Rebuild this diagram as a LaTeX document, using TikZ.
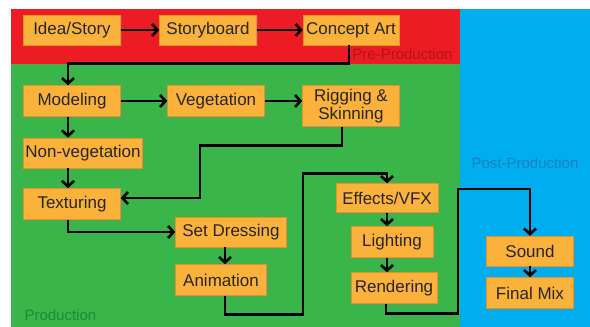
\documentclass[tikz,border=0pt]{standalone}
\usepackage{fontspec}
\setmainfont{Liberation Sans}
\usetikzlibrary{arrows.meta, shadows}

\definecolor{preRed}{RGB}{237,28,36}
\definecolor{prodGreen}{RGB}{57,181,74}
\definecolor{postBlue}{RGB}{0,174,239}
\definecolor{boxOrange}{RGB}{251,178,59}
\definecolor{boxEdge}{RGB}{226,148,42}
\definecolor{preText}{RGB}{180,18,28}
\definecolor{prodText}{RGB}{30,140,55}
\definecolor{postText}{RGB}{20,130,190}

\begin{document}
\begin{tikzpicture}[x=1pt, y=-1pt,
    stage/.style={draw=boxEdge, fill=boxOrange, text=black!85, align=center,
      font=\fontsize{17}{18}\selectfont, minimum height=30pt, inner sep=1pt,
      drop shadow={shadow xshift=1pt, shadow yshift=-1.2pt, opacity=.35}},
    flow/.style={line width=2.6pt, -{Straight Barb[length=5.5pt, width=12pt]}},
    phase/.style={font=\fontsize{15}{16}\selectfont}]
		\useasboundingbox (0,0) rectangle (590,327);
		\fill[white] (0,0) rectangle (590,327);
		% the three phases
		\fill[preRed] (11,9) rectangle (460,64);
		\fill[prodGreen] (11,64) rectangle (460,327);
		\fill[postBlue] (460,9) rectangle (590,327);
		\node[phase, text=preText, anchor=base east] (prelbl) at (456,59) {Pre-Production};
		\node[phase, text=prodText, anchor=base west] (prodlbl) at (21,320) {Production};
		\node[phase, text=postText, anchor=base] (postlbl) at (525,168) {Post-Production};

		% pre-production
		\node[stage, minimum width=97pt] (idea) at (72,30) {Idea/Story};
		\node[stage, minimum width=97pt] (board) at (208,30) {Storyboard};
		\node[stage, minimum width=96pt] (concept) at (351,30) {Concept Art};

		% production
		\node[stage, minimum width=97pt, minimum height=31pt] (model) at (72,101) {Modeling};
		\node[stage, minimum width=97pt, minimum height=31pt] (veg) at (216,101) {Vegetation};
		\node[stage, minimum width=97pt, minimum height=41pt] (rig) at (351,106) {Rigging \&\\Skinning};
		\node[stage, minimum width=119pt] (nonveg) at (83,153) {Non-vegetation};
		\node[stage, minimum width=97pt, minimum height=31pt] (tex) at (72,204) {Texturing};
		\node[stage, minimum width=111pt] (setdr) at (231,232) {Set Dressing};
		\node[stage, minimum width=91pt, minimum height=31pt] (anim) at (221,280) {Animation};
		\node[stage, minimum width=102pt, minimum height=29pt] (fx) at (387,198) {Effects/VFX};
		\node[stage, minimum width=82pt, minimum height=31pt] (light) at (392,242) {Lighting};
		\node[stage, minimum width=86pt, minimum height=31pt] (render) at (394,288) {Rendering};

		% post-production
		\node[stage, minimum width=87pt] (sound) at (530,251) {Sound};
		\node[stage, minimum width=87pt, minimum height=31pt] (final) at (530,293) {Final Mix};

		\draw[flow] (idea) -- (board);
		\draw[flow] (board) -- (concept);
		\draw[flow] ([xshift=-2pt]concept.south) -- ++(0,18) -| ([xshift=-4pt]model.north);
		\draw[flow] (model) -- (veg);
		\draw[flow] (veg.east) -- (veg.east -| rig.west);
		\draw[flow] ([xshift=-4pt]model.south) -- ++(0,21);
		\draw[flow] (nonveg.south -| tex.north) ++(-4,0) -- ++(0,20);
		\draw[flow] ([xshift=-9pt]rig.south) -- ++(0,19) -- ++(-142,0) |- ([yshift=6pt]tex.east);
		\draw[flow] ([xshift=-4pt]tex.south) |- (setdr.west);
		\draw[flow] ([xshift=4pt]anim.north |- setdr.south) -- ++(0,17);
		\draw[flow] ([xshift=4pt]anim.south) -- ++(0,19) -- ++(78,0) |- ([yshift=10pt]fx.north) -- (fx.north);
		\draw[flow] (fx.south) -- (fx.south |- light.north);
		\draw[flow] (fx.south |- light.south) -- (fx.south |- render.north);
		\draw[flow] ([xshift=-8pt]render.south) -- ++(0,10) -- ++(72,0) |- ([yshift=47pt]sound.north) -- (sound.north);
		\draw[flow] (sound) -- (final);
	\end{tikzpicture}
\end{document}
